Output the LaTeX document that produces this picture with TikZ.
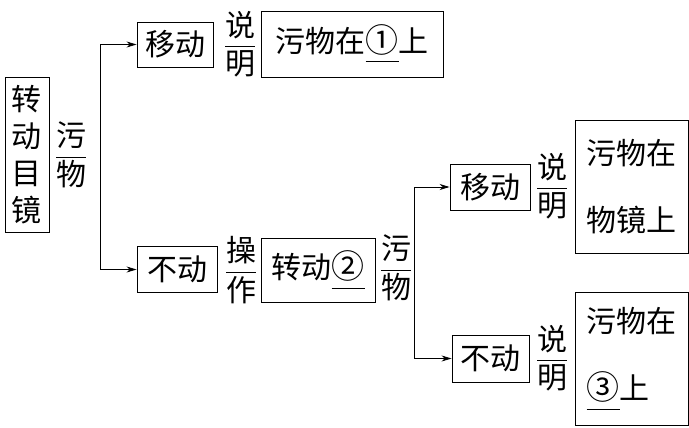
\documentclass[tikz,border=0pt]{standalone}
\usepackage{amsmath}
\usepackage{graphicx}
\usepackage{fontspec}
\setmainfont{Noto Sans CJK SC}
\usetikzlibrary{arrows.meta, positioning}
\newcommand{\fenxian}[2]{$\dfrac{\mbox{#1}}{\mbox{#2}}$}
\newcommand{\kongge}[1]{\underline{\rule[-6pt]{0pt}{0pt}\scalebox{1.1}{#1}}}

\begin{document}
\begin{tikzpicture}[x=1pt, y=-1pt, font=\fontsize{30}{36}\selectfont,
    kuang/.style={draw, line width=0.9pt, inner sep=0pt, align=center},
    biaozhu/.style={inner sep=0pt},
    jian/.style={-{Stealth[length=10pt,width=6pt]}, line width=0.8pt}]
  \useasboundingbox (0,0) rectangle (689,428);

  % first level
  \node[kuang, minimum width=44pt, minimum height=155pt,
        font=\fontsize{30}{37}\selectfont] (zhuan) at (27,154.5) {转\\动\\目\\镜};
  \node[biaozhu] (f1) at (71,155) {\fenxian{污}{物}};
  \coordinate (b1) at (100,155);

  % upper branch
  \node[kuang, minimum width=76pt, minimum height=45pt] (yi1) at (175,44.5) {移动};
  \node[biaozhu] (f2) at (240,44) {\fenxian{说}{明}};
  \node[kuang, minimum width=182pt, minimum height=66pt] (jg1) at (352,44) {污物在\kongge{①}上};

  % lower branch
  \node[kuang, minimum width=80pt, minimum height=46pt] (bu1) at (177,269.5) {不动};
  \node[biaozhu] (f3) at (241,270) {\fenxian{操}{作}};
  \node[kuang, minimum width=114pt, minimum height=64pt] (zhuan2) at (318,270.5) {转动\kongge{②}};
  \node[biaozhu] (f4) at (396,268) {\fenxian{污}{物}};
  \coordinate (b2) at (414,270);

  \node[kuang, minimum width=80pt, minimum height=46pt] (yi2) at (490,187) {移动};
  \node[biaozhu] (f5) at (552,186) {\fenxian{说}{明}};
  \node[kuang, minimum width=113pt, minimum height=133pt,
        font=\fontsize{30}{67}\selectfont] (jg2) at (631.5,186.5) {污物在\\物镜上};

  \node[kuang, minimum width=77pt, minimum height=47pt] (bu2) at (490.5,358.5) {不动};
  \node[biaozhu] (f6) at (552,358) {\fenxian{说}{明}};
  \node[kuang, minimum width=113pt, minimum height=133pt, align=left,
        font=\fontsize{30}{67}\selectfont] (jg3) at (631.5,359) {污物在\\\kongge{③}上};

  % connectors
  \draw[jian] (bu1.west -| b1) |- (yi1.west);
  \draw[jian] (yi1.west -| b1) |- (bu1.west);
  \draw[jian] (bu2.west -| b2) |- (yi2.west);
  \draw[jian] (yi2.west -| b2) |- (bu2.west);
\end{tikzpicture}
\end{document}
